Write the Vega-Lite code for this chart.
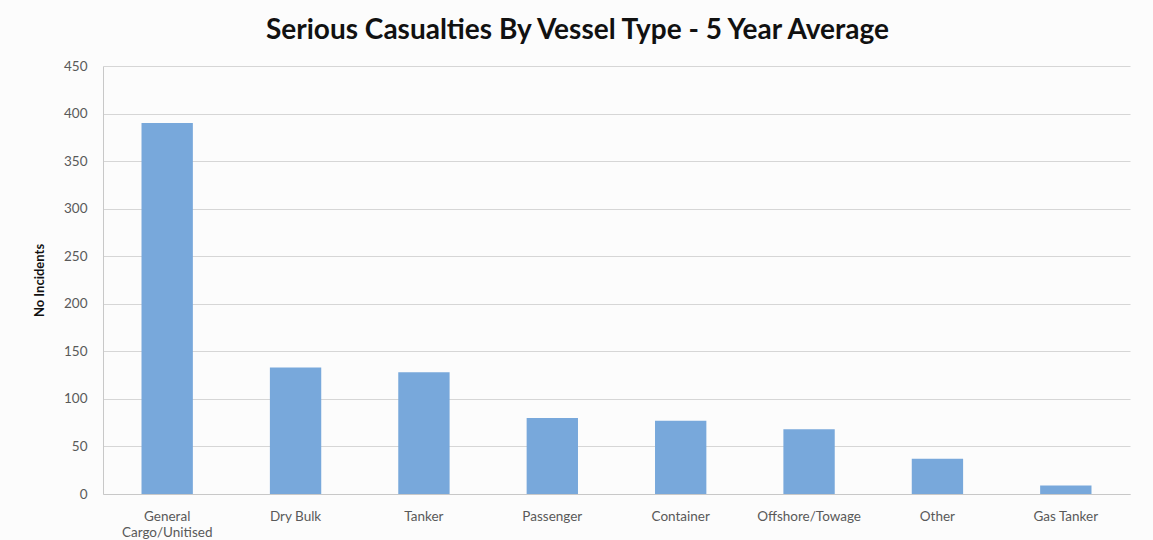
{
  "$schema": "https://vega.github.io/schema/vega-lite/v6.json",
  "autosize": {"type": "none"},
  "width": 1027,
  "height": 428,
  "padding": {"left": 103, "top": 66, "right": 23, "bottom": 46},
  "background": "#fcfcfc",
  "title": {
    "text": "Serious Casualties By Vessel Type - 5 Year Average",
    "font": "Lato",
    "fontSize": 28,
    "fontWeight": "bold",
    "color": "#111111",
    "anchor": "middle",
    "dx": -39,
    "offset": 14
  },
  "data": {
    "values": [
      {"type": "General Cargo/Unitised", "incidents": 390},
      {"type": "Dry Bulk", "incidents": 133},
      {"type": "Tanker", "incidents": 128},
      {"type": "Passenger", "incidents": 80},
      {"type": "Container", "incidents": 77},
      {"type": "Offshore/Towage", "incidents": 68},
      {"type": "Other", "incidents": 37},
      {"type": "Gas Tanker", "incidents": 9}
    ]
  },
  "mark": {"type": "bar", "color": "#78a8db"},
  "encoding": {
    "x": {
      "field": "type",
      "type": "nominal",
      "sort": null,
      "scale": {"paddingInner": 0.6, "paddingOuter": 0.3},
      "axis": {
        "title": null,
        "labelAngle": 0,
        "labelFont": "Lato",
        "labelFontSize": 13.5,
        "labelColor": "#595959",
        "labelPadding": 15,
        "labelLimit": 140,
        "labelExpr": "datum.value == 'General Cargo/Unitised' ? ['General', 'Cargo/Unitised'] : datum.value",
        "labelLineHeight": 16,
        "ticks": false,
        "domainColor": "#c8c8c8",
        "grid": false
      }
    },
    "y": {
      "field": "incidents",
      "type": "quantitative",
      "scale": {"domain": [0, 450]},
      "axis": {
        "title": "No Incidents",
        "titleFont": "Lato",
        "titleFontSize": 13,
        "titleFontWeight": "bold",
        "titleColor": "#111111",
        "titlePadding": 17,
        "values": [0, 50, 100, 150, 200, 250, 300, 350, 400, 450],
        "labelFont": "Lato",
        "labelFontSize": 13.5,
        "labelColor": "#595959",
        "labelPadding": 16,
        "ticks": false,
        "domain": true,
        "domainColor": "#c8c8c8",
        "gridColor": "#d6d6d6"
      }
    }
  },
  "config": {"view": {"stroke": null}}
}
